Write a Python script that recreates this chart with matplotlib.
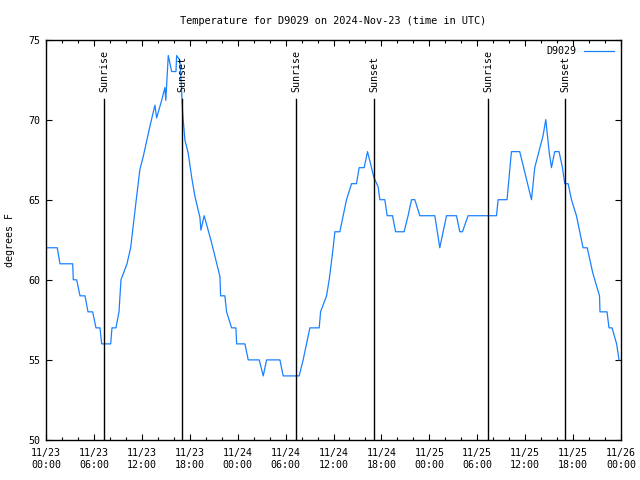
import datetime as dt
import matplotlib
matplotlib.use("Agg")
import matplotlib.pyplot as plt
import matplotlib.dates as mdates

# hours since 2024-11-23 00:00 UTC and temperature (F)
hours = [0, 1.41, 1.75, 3.34, 3.42, 3.84, 4.26, 4.88, 5.26, 5.84, 6.26, 6.76, 6.97, 8.10,
         8.26, 8.76, 9.14, 9.39, 10.14, 10.60, 11.35, 11.76, 12.18, 13.02, 13.64, 13.85,
         14.48, 14.89, 15.0, 15.31, 15.73, 16.27, 16.36, 16.77, 16.98, 17.11, 17.40, 17.81,
         18.24, 18.65, 19.27, 19.40, 19.81, 20.74, 21.78, 21.86, 22.40, 22.61, 23.24, 23.78,
         23.87, 24.91, 25.32, 26.70, 27.20, 27.62, 29.29, 29.70, 31.70, 32.20, 33.04, 34.21,
         34.38, 35.13, 35.46, 35.76, 35.96, 36.17, 36.80, 37.21, 37.63, 38.26, 38.88, 39.21,
         39.84, 40.26, 40.76, 41.05, 41.59, 41.80, 42.43, 42.72, 43.39, 43.77, 44.84, 45.34,
         45.77, 46.18, 46.81, 48.69, 49.31, 50.15, 51.40, 51.81, 52.15, 52.85, 56.41, 56.61,
         57.73, 58.28, 59.32, 60.79, 61.20, 62.24, 62.58, 63.0, 63.29, 63.70, 64.24, 64.67,
         64.96, 65.38, 65.80, 66.42, 67.25, 67.77, 68.48, 69.31, 69.37, 70.25, 70.50, 70.88,
         71.45, 71.75]
temps = [62, 62, 61, 61, 60, 60, 59, 59, 58, 58, 57, 57, 56, 56,
         57, 57, 58, 60, 61, 62, 65.2, 66.9, 67.7, 69.6, 70.9, 70.1,
         71.2, 72.0, 71.2, 74, 73, 73, 74, 73.7, 71.8, 70.4, 68.7, 67.9,
         66.4, 65.2, 63.9, 63.1, 64.0, 62.3, 60.2, 59, 59, 58, 57, 57,
         56, 56, 55, 55, 54, 55, 55, 54, 54, 55, 57, 57,
         58, 59, 60, 61.2, 62, 63, 63, 64, 65, 66, 66, 67,
         67, 68, 67, 66.4, 65.8, 65, 65, 64, 64, 63, 63, 64,
         65, 65, 64, 64, 62, 64, 64, 63, 63, 64, 64, 65,
         65, 68, 68, 65, 67, 69, 70, 68, 67, 68, 68, 67,
         66, 66, 65, 64, 62, 62, 60.4, 59, 58, 58, 57, 57,
         56, 55]

sun_hours = [7.30, 17.07, 31.33, 41.09, 55.36, 65.0]
sun_labels = ["Sunrise", "Sunset", "Sunrise", "Sunset", "Sunrise", "Sunset"]

start = dt.datetime(2024, 11, 23)
times = [start + dt.timedelta(hours=h) for h in hours]

plt.rcParams['font.family'] = 'DejaVu Sans Mono'
plt.rcParams['font.size'] = 7.2

fig = plt.figure(figsize=(6.4, 4.8), dpi=100)
ax = fig.add_axes([46 / 640, 40 / 480, 575 / 640, 400.5 / 480])

ax.plot(times, temps, color='#1a80ff', lw=0.9, label='D9029')

for h, lab in zip(sun_hours, sun_labels):
    t = start + dt.timedelta(hours=h)
    ax.plot([t, t], [50, 71.3], color='black', lw=1)
    ax.text(t, 71.7, lab, rotation=90, ha='center', va='bottom')

ax.set_xlim(start, start + dt.timedelta(hours=72))
ax.set_ylim(50, 75)
ax.set_yticks([50, 55, 60, 65, 70, 75])
ax.xaxis.set_major_locator(mdates.HourLocator(byhour=range(0, 24, 6)))
ax.xaxis.set_minor_locator(mdates.HourLocator(interval=2))
ax.xaxis.set_major_formatter(mdates.DateFormatter('%m/%d\n%H:%M'))
ax.tick_params(which='both', direction='in', top=True, right=True, color='black')
ax.tick_params(which='major', length=4.5, width=0.8)
ax.tick_params(which='minor', length=2.5, width=0.8)
ax.tick_params(axis='x', which='major', pad=6)
ax.tick_params(axis='y', pad=4)
for s in ax.spines.values():
    s.set_linewidth(1)

ax.set_title('Temperature for D9029 on 2024-Nov-23 (time in UTC)', fontsize=7.4, pad=11)
ax.set_ylabel('degrees F', labelpad=10)
ax.legend(loc='upper right', frameon=False, markerfirst=False, handlelength=3.0,
          borderaxespad=0.3, handletextpad=0.8)

fig.savefig('out.png', dpi=100)
